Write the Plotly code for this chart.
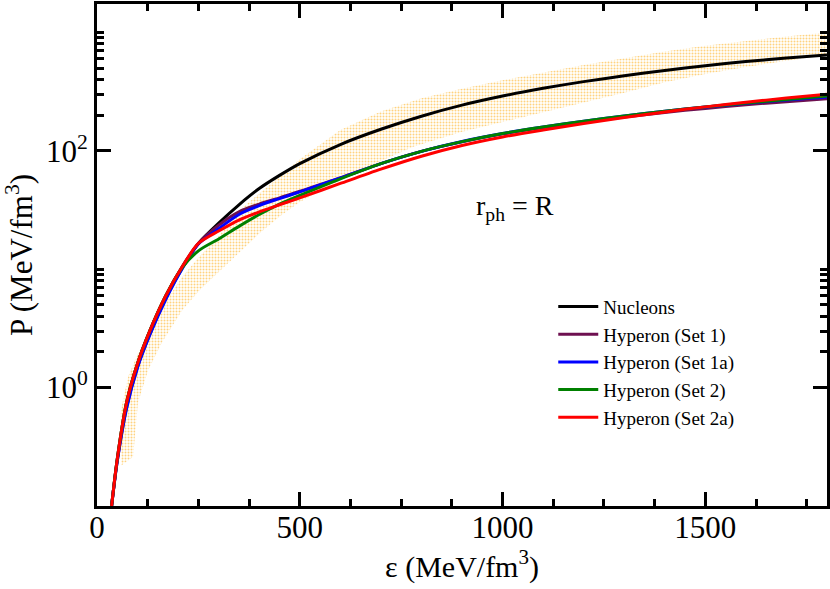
import plotly.graph_objects as go

FONT_FAMILY = "Liberation Serif"
COLOR_AXIS = "#000000"
COLOR_BAND = "rgb(255, 165, 0)"

# energy density grid (MeV/fm^3)
eps = [36, 50, 73, 100, 130, 170, 210, 250, 300, 350, 400, 450, 500, 600, 700,
       800, 900, 1000, 1100, 1200, 1300, 1400, 1500, 1600, 1700, 1800]

# pressure (MeV/fm^3) for each EoS
p_nucleons = [0.1, 0.25, 0.75, 1.6, 3.0, 6.0, 10.5, 16.5, 24.5, 35, 48, 62, 78, 113, 152,
              196, 243, 290, 337, 384, 430, 477, 523, 567, 607, 643]
p_set1 = [0.1, 0.24, 0.68, 1.5, 2.8, 5.7, 10.2, 16.5, 23.5, 30.5, 35.5, 40, 45.5, 59, 78,
          99, 119, 139, 157, 175, 193, 211, 228, 245, 260, 275]
p_set1a = [0.1, 0.24, 0.67, 1.48, 2.78, 5.6, 10.1, 16.3, 22, 29, 34.5, 39.5, 45, 59, 78,
           99, 120, 140, 159, 178, 197, 216, 234, 252, 269, 285]
p_set2 = [0.1, 0.25, 0.75, 1.6, 3.0, 6.0, 10.3, 14.3, 18, 23, 29, 35.5, 42, 58, 78,
          99, 119.5, 140, 159, 178, 197, 216, 235, 253, 271, 290]
p_set2a = [0.1, 0.25, 0.75, 1.6, 3.0, 6.0, 10.5, 16.5, 21, 26, 30.5, 35, 40, 53, 70,
           90, 111, 131, 150, 170, 191, 213, 235, 257, 279, 300]

# constraint band edges
band_upper_eps = [58, 77, 100, 130, 170, 210, 250, 300, 344, 427, 500, 600, 700, 800,
                  900, 1000, 1100, 1200, 1300, 1400, 1500, 1600, 1700, 1800]
band_upper_p = [0.62, 1.25, 1.9, 3.0, 5.4, 8.6, 12.5, 19, 30, 52, 85, 150, 215, 278,
                335, 395, 460, 530, 605, 690, 770, 850, 925, 1000]
band_lower_eps = [60, 89, 101, 126, 160, 210, 254, 300, 353, 400, 451, 500, 600, 700,
                  780, 900, 1000, 1100, 1200, 1300, 1400, 1500, 1600, 1700, 1800]
band_lower_p = [0.22, 0.26, 0.75, 1.4, 2.4, 4.5, 6.7, 9.5, 14, 20, 28, 37, 57, 82,
                108, 145, 175, 210, 255, 310, 380, 445, 510, 575, 640]

curves = [
    ("Nucleons", p_nucleons, "#000000"),
    ("Hyperon (Set 1)", p_set1, "#6E1050"),
    ("Hyperon (Set 1a)", p_set1a, "#0000FF"),
    ("Hyperon (Set 2)", p_set2, "#008000"),
    ("Hyperon (Set 2a)", p_set2a, "#FF0000"),
]

fig = go.Figure()

#band drawn as a closed polygon
fig.add_trace(go.Scatter(x = band_upper_eps + band_lower_eps[::-1],
                         y = band_upper_p + band_lower_p[::-1],
                         mode = "lines",
                         line = dict(width = 0),
                         fill = "toself",
                         fillcolor = "rgba(0,0,0,0)",
                         fillpattern = dict(shape = ".", fgcolor = COLOR_BAND,
                                            bgcolor = "rgba(255,255,255,0)",
                                            size = 3, solidity = 0.35),
                         showlegend = False,
                         hoverinfo = "skip"))

for name, p, color in curves:
    fig.add_trace(go.Scatter(x = eps, y = p,
                             mode = "lines",
                             name = name,
                             line = dict(color = color, width = 3, shape = "spline",
                                         smoothing = 0.8)))

axis_common = dict(showline = True,
                   linecolor = COLOR_AXIS,
                   linewidth = 3,
                   mirror = "ticks",
                   ticks = "inside",
                   tickwidth = 3,
                   ticklen = 14,
                   tickcolor = COLOR_AXIS,
                   showgrid = False,
                   zeroline = False,
                   automargin = False,
                   tickfont = dict(family = FONT_FAMILY, size = 31, color = "black"))

fig.update_layout(width = 830,
                  height = 589,
                  margin = dict(l = 97, r = 3, t = 4, b = 83),
                  plot_bgcolor = "white",
                  paper_bgcolor = "white",
                  font = dict(family = FONT_FAMILY, color = "black", size = 19),
                  legend = dict(x = 0.625, y = 0.435, xanchor = "left", yanchor = "top",
                                bgcolor = "rgba(0,0,0,0)",
                                font = dict(family = FONT_FAMILY, size = 19),
                                itemwidth = 40, tracegroupgap = 0),
                  xaxis = dict(axis_common,
                               range = [0, 1800],
                               tickmode = "array",
                               tickvals = [0, 500, 1000, 1500],
                               ticklabelstandoff = -8,
                               minor = dict(ticks = "inside", dtick = 125, tick0 = 0,
                                            ticklen = 7, tickwidth = 3,
                                            tickcolor = COLOR_AXIS),
                               title = dict(text = "ε (MeV/fm<sup>3</sup>)",
                                            font = dict(family = FONT_FAMILY, size = 30),
                                            standoff = 0)),
                  yaxis = dict(axis_common,
                               type = "log",
                               range = [-1, 3.24],
                               tickmode = "array",
                               tickvals = [1, 100],
                               ticktext = ["10<sup>0</sup>", "10<sup>2</sup>"],
                               minor = dict(ticks = "inside", tickmode = "array",
                                            tickvals = [2, 3, 4, 5, 6, 7, 8, 9, 10,
                                                        200, 300, 400, 500, 600, 700,
                                                        800, 900, 1000],
                                            ticklen = 7, tickwidth = 3,
                                            tickcolor = COLOR_AXIS),
                               title = dict(text = "P (MeV/fm<sup>3</sup>)",
                                            font = dict(family = FONT_FAMILY, size = 31),
                                            standoff = 6)))

fig.add_annotation(text = "r<sub>ph</sub> = R",
                   xref = "paper",
                   yref = "paper",
                   x = 0.572,
                   y = 0.594,
                   xanchor = "center",
                   yanchor = "middle",
                   showarrow = False,
                   font = dict(family = FONT_FAMILY, size = 28, color = "black"))

# page body has a default margin, drop it so the figure sits at the corner
fig.write_html("out.html",
               config = {"displayModeBar": False},
               post_script = "document.body.style.margin = '0px';")
